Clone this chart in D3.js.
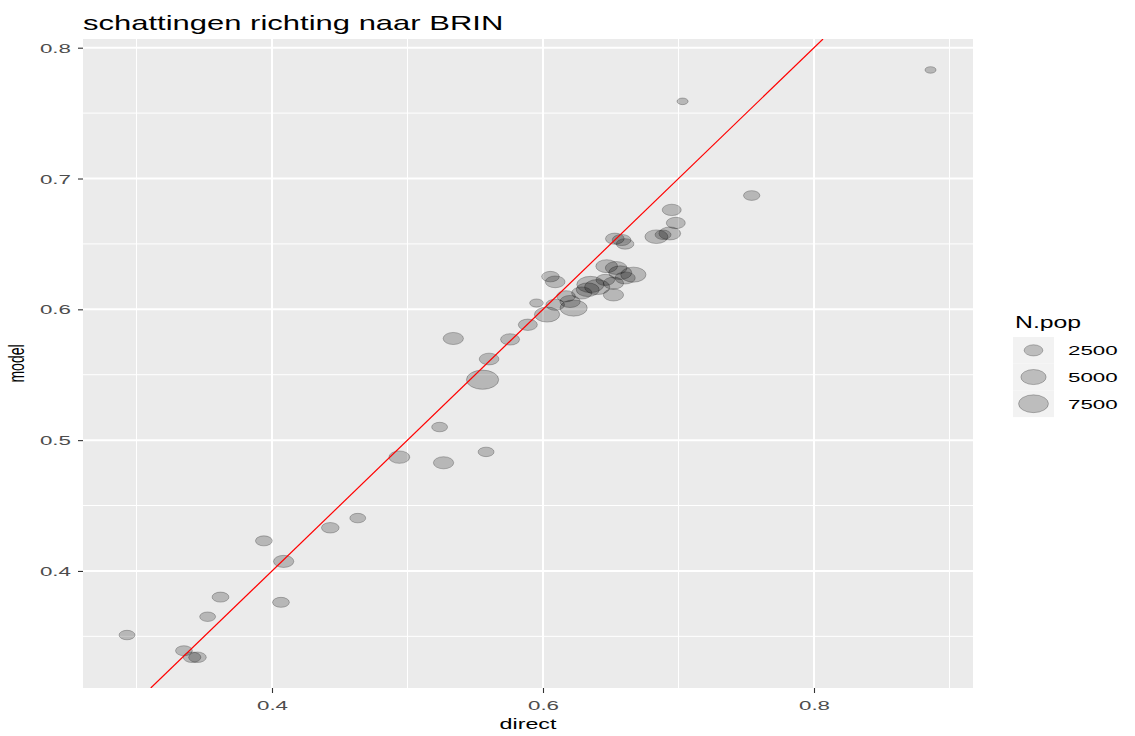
<!DOCTYPE html>
<html><head><meta charset="utf-8">
<script src="https://cdn.jsdelivr.net/npm/d3@7"></script>
<style>body{margin:0;background:#fff;} text{font-family:"Liberation Sans",Arial,sans-serif;}</style>
</head><body>
<svg id="c" width="1135" height="736"></svg>
<script>
// data: direct estimate, model estimate, population
const direct = [0.886,0.703,0.754,0.695,0.698,0.6936,0.6837,0.6886,0.653,0.658,0.6606,0.6055,0.609,0.647,0.654,0.657,0.6606,0.6667,0.652,0.652,0.646,0.635,0.633,0.640,0.6286,0.620,0.6226,0.609,0.603,0.5952,0.5888,0.5757,0.5602,0.5554,0.5338,0.558,0.5266,0.5237,0.494,0.4633,0.443,0.4086,0.4066,0.394,0.362,0.3525,0.345,0.341,0.335,0.293,0.617];
const model  = [0.783,0.759,0.687,0.676,0.666,0.658,0.6555,0.657,0.654,0.653,0.650,0.625,0.621,0.633,0.6316,0.628,0.624,0.6265,0.620,0.611,0.6225,0.619,0.615,0.617,0.6125,0.606,0.601,0.6035,0.596,0.6048,0.5882,0.577,0.562,0.5462,0.5777,0.491,0.4827,0.510,0.487,0.4404,0.433,0.4073,0.376,0.423,0.380,0.365,0.334,0.334,0.339,0.351,0.610];
const npop   = [1100,1100,1900,2600,2600,3500,4000,1800,2500,2500,2200,2200,2800,3500,3500,4000,3000,5000,3000,3000,2500,6000,4000,5000,3000,3000,6000,2500,5000,1400,2600,2600,2800,9000,3000,1800,3000,1800,3200,1800,2200,3000,2000,2000,2000,1800,2200,2200,2000,1800,2500];
const xTicks = [0.4,0.6,0.8];
const yTicks = [0.4,0.5,0.6,0.7,0.8];
const xMinor = [0.3,0.5,0.7,0.9];
const yMinor = [0.35,0.45,0.55,0.65,0.75];
const legendVals = [2500,5000,7500];

const svg = d3.select("#c");
const L=83,R=973,T=39,B=688;
const x = d3.scaleLinear().domain([0.4-(272-L)/1355, 0.4+(R-272)/1355]).range([L,R]);
const y = d3.scaleLinear().domain([0.4-(B-571)/1307.5, 0.8+(47.7-T)/1307.5]).range([B,T]);
const popMin=1000, popMax=9000;
const sz = d3.scaleLinear().domain([0,1]).range([2.5,9.6]);
const ry = v => sz(Math.sqrt(Math.max(0,(v-popMin)/(popMax-popMin))));
const asp = 1.68;
const SX = 1.55, SXs = 1.72;

function stext(px,py,sx,size,str,anchor){
  return svg.append("text").attr("transform",`translate(${px},${py}) scale(${sx},1)`)
    .attr("font-size",size).attr("text-anchor",anchor||"start").attr("fill","#000").text(str);
}

// title
stext(83,30,SX,20,"schattingen richting naar BRIN");

// panel
svg.append("rect").attr("x",L).attr("y",T).attr("width",R-L).attr("height",B-T).attr("fill","#ebebeb");
const g = svg.append("g");
g.selectAll(".vm").data(xMinor).join("line").attr("x1",d=>x(d)).attr("x2",d=>x(d)).attr("y1",T).attr("y2",B).attr("stroke","#fff").attr("stroke-width",1);
g.selectAll(".hm").data(yMinor).join("line").attr("y1",d=>y(d)).attr("y2",d=>y(d)).attr("x1",L).attr("x2",R).attr("stroke","#fff").attr("stroke-width",1);
g.selectAll(".vM").data(xTicks).join("line").attr("x1",d=>x(d)).attr("x2",d=>x(d)).attr("y1",T).attr("y2",B).attr("stroke","#fff").attr("stroke-width",2);
g.selectAll(".hM").data(yTicks).join("line").attr("y1",d=>y(d)).attr("y2",d=>y(d)).attr("x1",L).attr("x2",R).attr("stroke","#fff").attr("stroke-width",2);

// points
const pts = direct.map((d,i)=>({x:d,y:model[i],n:npop[i]}));
svg.append("defs").append("clipPath").attr("id","clp").append("rect").attr("x",L).attr("y",T).attr("width",R-L).attr("height",B-T);
const pg = svg.append("g").attr("clip-path","url(#clp)");
pg.selectAll("ellipse").data(pts).join("ellipse")
  .attr("cx",d=>x(d.x)).attr("cy",d=>y(d.y))
  .attr("rx",d=>ry(d.n)*asp).attr("ry",d=>ry(d.n))
  .attr("fill","rgba(0,0,0,0.22)").attr("stroke","rgba(0,0,0,0.24)").attr("stroke-width",1);

// identity line
const lo = y.domain()[0], hi = y.domain()[1];
pg.append("line").attr("x1",x(lo)).attr("y1",y(lo)).attr("x2",x(hi)).attr("y2",y(hi)).attr("stroke","#ff0000").attr("stroke-width",1.2);

// axes
const xa = svg.append("g").attr("transform",`translate(0,${B})`).call(d3.axisBottom(x).tickValues(xTicks).tickSize(5).tickSizeOuter(0).tickFormat(d3.format(".1f")));
const ya = svg.append("g").attr("transform",`translate(${L},0)`).call(d3.axisLeft(y).tickValues(yTicks).tickSize(5).tickSizeOuter(0).tickFormat(d3.format(".1f")));
[xa,ya].forEach(a=>{a.select(".domain").remove();a.selectAll(".tick line").attr("stroke","#333").attr("stroke-width",1.1);
  a.selectAll(".tick text").attr("fill","#4d4d4d").attr("font-size",13).attr("font-family","Liberation Sans, Arial, sans-serif");});
xa.selectAll(".tick text").attr("y",null).attr("dy",null).attr("transform",`translate(0,22) scale(${SXs},1)`);
ya.selectAll(".tick text").attr("x",null).attr("dy",null).attr("transform",`translate(-12,4.5) scale(${SXs},1)`);

stext((L+R)/2,729,SX,15,"direct","middle");
svg.append("text").attr("transform",`translate(24,${(T+B)/2}) scale(${SX},1) rotate(-90)`).attr("text-anchor","middle").attr("font-size",14).text("model");

// legend
stext(1015,328,SX,16,"N.pop");
const lg = svg.append("g");
const kh=26.7, ky0=337;
lg.selectAll("rect").data(legendVals).join("rect").attr("x",1013).attr("y",(d,i)=>ky0+i*kh).attr("width",41).attr("height",kh).attr("fill","#f2f2f2");
lg.selectAll("ellipse").data(legendVals).join("ellipse").attr("cx",1033.5).attr("cy",(d,i)=>ky0+i*kh+kh/2)
  .attr("rx",d=>ry(d)*asp).attr("ry",d=>ry(d))
  .attr("fill","rgba(0,0,0,0.22)").attr("stroke","rgba(0,0,0,0.24)");
lg.selectAll("text").data(legendVals).join("text")
  .attr("transform",(d,i)=>`translate(1068,${ky0+i*kh+kh/2+5}) scale(${SXs},1)`)
  .attr("font-size",13).text(d=>d);
</script>
</body></html>
